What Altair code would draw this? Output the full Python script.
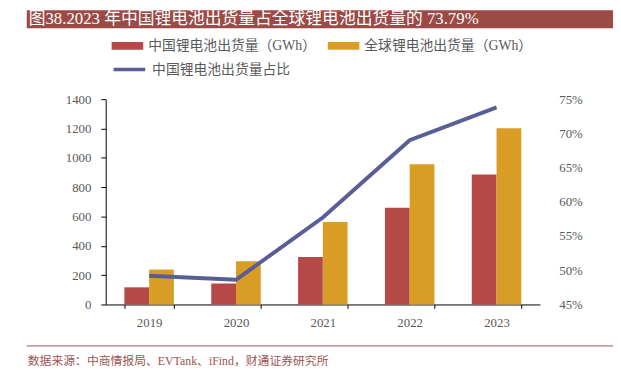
import altair as alt
import pandas as pd

years = ["2019", "2020", "2021", "2022", "2023"]
china_gwh = [117, 143, 324, 660, 887]
global_gwh = [238, 294, 562, 957, 1202]
china_share = [0.492, 0.486, 0.577, 0.690, 0.7379]
series = ["中国锂电池出货量（GWh）", "全球锂电池出货量（GWh）"]
line_name = "中国锂电池出货量占比"
left_ticks = [0, 200, 400, 600, 800, 1000, 1200, 1400]
right_ticks = [0.45, 0.50, 0.55, 0.60, 0.65, 0.70, 0.75]
title_text = "图38.2023 年中国锂电池出货量占全球锂电池出货量的 73.79%"
source_text = "数据来源：中商情报局、EVTank、iFind，财通证券研究所"

FONT = "Liberation Serif, Times New Roman, Noto Sans CJK SC"
RED = "#B54947"
GOLD = "#D99D26"
BLUE = "#5A5E96"
BROWN = "#9B4A46"
GRAY = "#595959"

bars_df = pd.DataFrame({
    "year": years * 2,
    "series": [series[0]] * len(years) + [series[1]] * len(years),
    "value": china_gwh + global_gwh,
})
line_df = pd.DataFrame({"year": years, "share": china_share, "name": [line_name] * len(years)})
deco_df = pd.DataFrame({"a": [0]})

x_enc = alt.X(
    "year:N",
    scale=alt.Scale(paddingInner=0.43, paddingOuter=0.215),
    axis=alt.Axis(title=None, labelAngle=0, tickBand="extent", domainColor="#000",
                  tickColor="#000", tickSize=4, labelPadding=8, labelFontSize=13,
                  labelColor=GRAY, labelFont=FONT),
)

bars = alt.Chart(bars_df).mark_bar().encode(
    x=x_enc,
    xOffset=alt.XOffset("series:N", sort=series,
                        scale=alt.Scale(domain=series, paddingInner=0, paddingOuter=0)),
    y=alt.Y("value:Q", scale=alt.Scale(domain=[0, 1400], nice=False),
            axis=alt.Axis(title=None, values=left_ticks, format="d", grid=False,
                          domainColor="#000", tickColor="#000", tickSize=5, labelPadding=10,
                          labelFontSize=13, labelColor=GRAY, labelFont=FONT)),
    fill=alt.Fill("series:N", sort=series, scale=alt.Scale(domain=series, range=[RED, GOLD]),
                  legend=alt.Legend(orient="none", legendX=6, legendY=-70, direction="horizontal",
                                    title=None, symbolType="M-1,-0.25H1V0.25H-1Z",
                                    symbolSize=1024, symbolStrokeWidth=0, labelFont=FONT,
                                    labelFontSize=14, labelColor=GRAY, columnPadding=11,
                                    labelOffset=5, labelLimit=400)),
)

line = alt.Chart(line_df).mark_line(strokeWidth=4).encode(
    x=alt.X("year:N"),
    y=alt.Y("share:Q", scale=alt.Scale(domain=[0.45, 0.75], nice=False, zero=False),
            axis=alt.Axis(title=None, orient="right", format=".0%", values=right_ticks,
                          domain=False, ticks=False, grid=False, labelPadding=19,
                          labelFontSize=13, labelColor=GRAY, labelFont=FONT)),
    stroke=alt.Stroke("name:N", scale=alt.Scale(domain=[line_name], range=[BLUE]),
                      legend=alt.Legend(orient="none", legendX=6, legendY=-48, title=None,
                                        symbolType="stroke", symbolSize=1024,
                                        symbolStrokeWidth=3.5, labelFont=FONT,
                                        labelFontSize=14, labelColor=GRAY, labelOffset=5,
                                        labelLimit=400)),
)

title_bar = alt.Chart(deco_df).mark_rect(color=BROWN).encode(
    x=alt.value(-80), x2=alt.value(514), y=alt.value(-90), y2=alt.value(-72))
title = alt.Chart(deco_df).mark_text(align="left", baseline="middle", color="white",
                                     fontSize=17, font=FONT).encode(
    x=alt.value(-78), y=alt.value(-81), text=alt.value(title_text))
src_rule = alt.Chart(deco_df).mark_rule(color="#A0504B", strokeWidth=1).encode(
    x=alt.value(-80), x2=alt.value(514), y=alt.value(250))
source = alt.Chart(deco_df).mark_text(align="left", baseline="middle", color="#9B5450",
                                      fontSize=12, font=FONT).encode(
    x=alt.value(-79), y=alt.value(265), text=alt.value(source_text))

chart = alt.layer(title_bar, title, bars, line, src_rule, source).resolve_scale(
    y="independent"
).properties(
    width=440, height=208,
    padding={"left": 99, "top": 90, "right": 74, "bottom": 64},
    autosize="none",
).configure_view(stroke=None)

chart.save("out.html", embed_options={"renderer": "svg", "actions": False})
